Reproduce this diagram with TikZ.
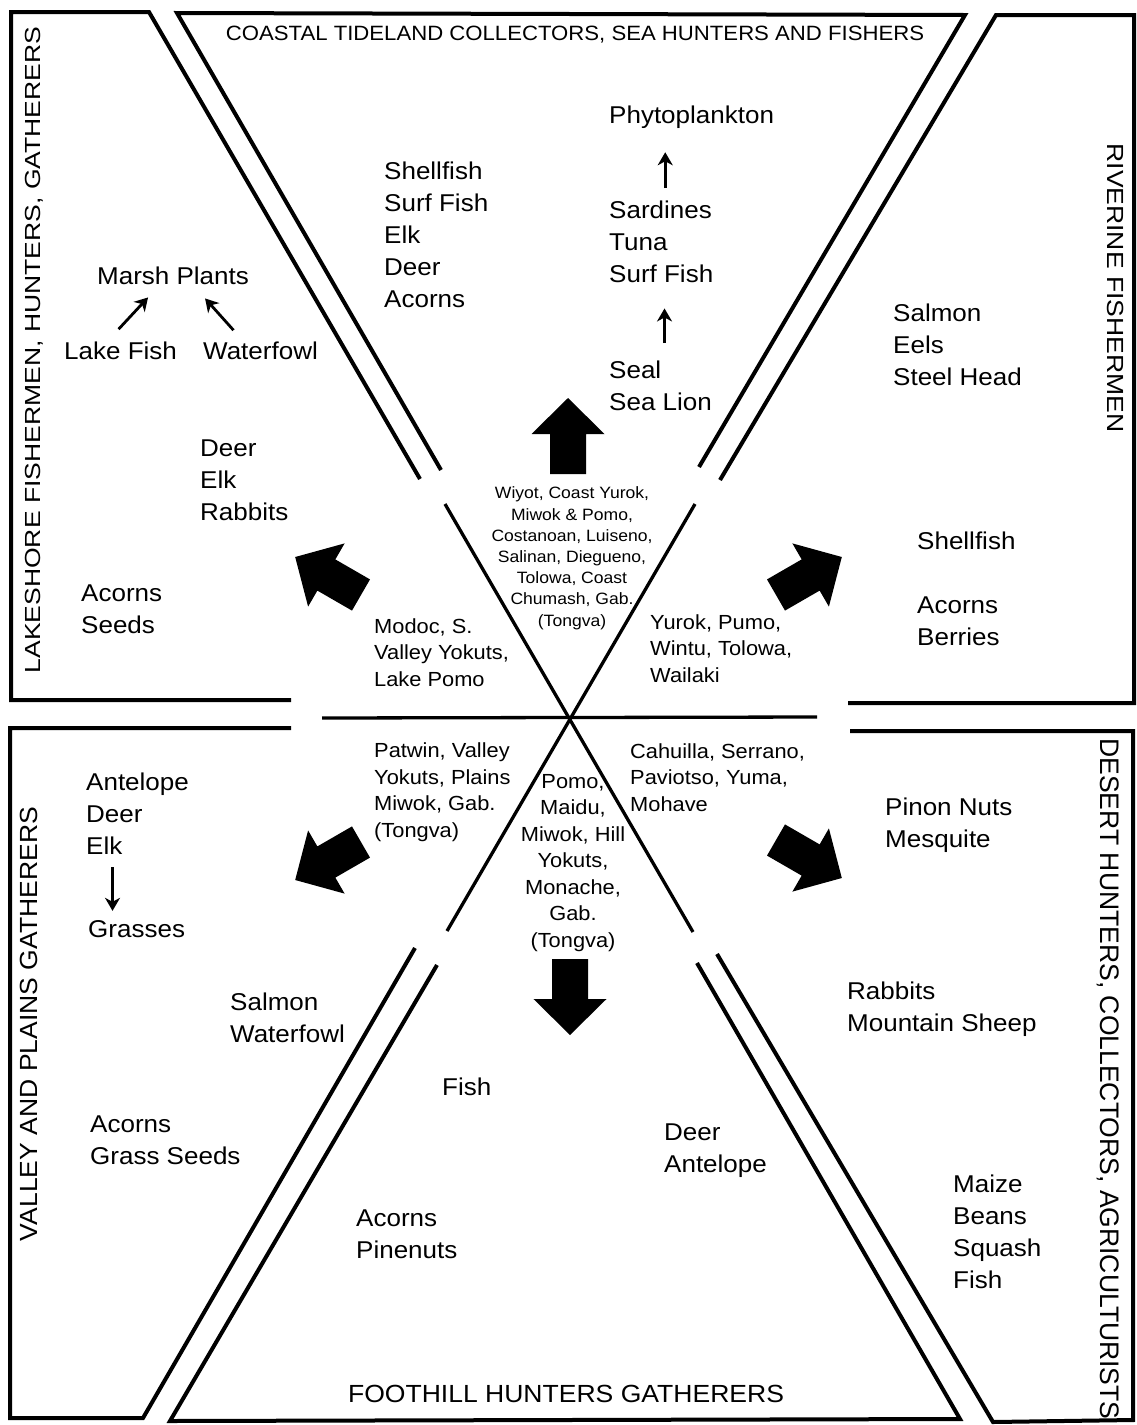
\documentclass[tikz,border=0pt]{standalone}
\usepackage{fontspec}
\setmainfont{Liberation Sans}[FakeStretch=1.07]
\usepackage{graphicx}
\usetikzlibrary{arrows.meta}

\newcommand{\bigarrow}[2]{\fill[shift={#1}, rotate=#2] (0,-18) -- (40,-18) -- (40,-36.5) -- (76,0) -- (40,36.5) -- (40,18) -- (0,18) -- cycle;}

\begin{document}
\begin{tikzpicture}[x=1pt, y=-1pt,
  border/.style={line width=4pt},
  cross/.style={line width=3.3pt},
  food/.style={font=\fontsize{24.3}{32}\selectfont, align=left, anchor=base west, inner sep=0pt},
  tribe/.style={font=\fontsize{20.4}{26.5}\selectfont, align=left, anchor=base west, inner sep=0pt},
  band/.style={font=\fontsize{16.4}{21.2}\selectfont, align=center, anchor=base, inner sep=0pt},
  title/.style={font=\fontsize{24.8}{30}\selectfont, anchor=base, inner sep=0pt},
  chain/.style={line width=2.8pt, -{Stealth[length=13pt, width=15pt, inset=4pt]}}]

\useasboundingbox (0,0) rectangle (1136,1425);

\draw[border] (420,479) -- (149,12) -- (11,12) -- (11,700) -- (291,700);
\draw[border] (441,470) -- (177,13) -- (965,15) -- (699,467);
\draw[border] (720,480) -- (996,15) -- (1134,15) -- (1134,703) -- (848,703);
\draw[border] (850,731) -- (1133,731) -- (1133,1420) -- (993,1422) -- (717,954);
\draw[border] (697,963) -- (960,1419) -- (170,1421) -- (437,965);
\draw[border] (415,948) -- (143,1418) -- (10,1418) -- (10,728) -- (291,728);

\draw[cross] (322,718) -- (817,717);
\draw[cross] (445,504) -- (693,932);
\draw[cross] (695,504) -- (447,931);

\bigarrow{(568,474)}{90}
\bigarrow{(570,959)}{270}
\bigarrow{(361,595)}{150}
\bigarrow{(361,842)}{210}
\bigarrow{(776,595)}{30}
\bigarrow{(776,840)}{330}

\node (coastal) [title, font=\fontsize{20.7}{25}\selectfont] at (575,40) {COASTAL TIDELAND COLLECTORS, SEA HUNTERS AND FISHERS};
\node (foothill) [title] at (566,1402) {FOOTHILL HUNTERS GATHERERS};
\node (lakeshore) [title, rotate=90] at (40,350) {\scalebox{1}[0.88]{LAKESHORE FISHERMEN, HUNTERS, GATHERERS}};
\node (valley) [title, rotate=90] at (37,1024) {VALLEY AND PLAINS GATHERERS};
\node (riverine) [title, rotate=-90] at (1107,288) {\scalebox{1}[0.94]{RIVERINE FISHERMEN}};
\node (desert) [title, rotate=-90] at (1100,1079) {\scalebox{1}[1.08]{DESERT HUNTERS, COLLECTORS, AGRICULTURISTS}};

\node (coastfood) [food] at (384,307) {Shellfish\\Surf Fish\\Elk\\Deer\\Acorns};
\node (phyto) [food] at (609,123) {Phytoplankton};
\node (sardines) [food] at (609,282) {Sardines\\Tuna\\Surf Fish};
\node (seal) [food] at (609,410) {Seal\\Sea Lion};
\node (marsh) [food] at (97,284) {Marsh Plants};
\node (lakefish) [food] at (64,359) {Lake Fish};
\node (waterfowl) [food] at (203,359) {Waterfowl};
\node (deer) [food] at (200,520) {Deer\\Elk\\Rabbits};
\node (acorns) [food] at (81,633) {Acorns\\Seeds};
\node (salmon) [food] at (893,385) {Salmon\\Eels\\Steel Head};
\node (shellfish) [food] at (917,645) {Shellfish\\[32pt]Acorns\\Berries};
\node (antelope) [food] at (86,854) {Antelope\\Deer\\Elk};
\node (grasses) [food] at (88,937) {Grasses};
\node (salmonvp) [food] at (230,1042) {Salmon\\Waterfowl};
\node (acornsvp) [food] at (90,1164) {Acorns\\Grass Seeds};
\node (pinon) [food] at (885,847) {Pinon Nuts\\Mesquite};
\node (rabbits) [food] at (847,1031) {Rabbits\\Mountain Sheep};
\node (fish) [food] at (442,1095) {Fish};
\node (deerfh) [food] at (664,1172) {Deer\\Antelope};
\node (acornsfh) [food] at (356,1258) {Acorns\\Pinenuts};
\node (maize) [food] at (953,1288) {Maize\\Beans\\Squash\\Fish};

\node (modoc) [tribe] at (374,686) {Modoc, S.\\Valley Yokuts,\\Lake Pomo};
\node (yurok) [tribe] at (650,682) {Yurok, Pumo,\\Wintu, Tolowa,\\Wailaki};
\node (patwin) [tribe] at (374,837) {Patwin, Valley\\Yokuts, Plains\\Miwok, Gab.\\(Tongva)};
\node (cahuilla) [tribe] at (630,811) {Cahuilla, Serrano,\\Paviotso, Yuma,\\Mohave};
\node (pomo) [tribe, align=center, anchor=base] at (573,947) {Pomo,\\Maidu,\\Miwok, Hill\\Yokuts,\\Monache,\\Gab.\\(Tongva)};
\node (wiyot) [band] at (572,626) {Wiyot, Coast Yurok,\\Miwok \& Pomo,\\Costanoan, Luiseno,\\Salinan, Diegueno,\\Tolowa, Coast\\Chumash, Gab.\\(Tongva)};

\draw[chain] ([xshift=-2pt, yshift=12pt]lakefish.north) -- ([xshift=-25pt, yshift=-13pt]marsh.south);
\draw[chain] ([xshift=-27pt, yshift=11pt]waterfowl.north) -- ([xshift=32pt, yshift=-14pt]marsh.south);
\draw[chain] ([xshift=4pt, yshift=12pt]sardines.north) -- ([xshift=4pt, yshift=-24pt]phyto.south -| sardines.north);
\draw[chain] ([xshift=4pt, yshift=17pt]seal.north) -- ([xshift=4pt, yshift=-26pt]sardines.south -| seal.north);
\draw[chain] ([xshift=-25pt, yshift=-13pt]antelope.south) -- ([xshift=-25pt, yshift=9pt]grasses.north -| antelope.south);
\end{tikzpicture}
\end{document}
